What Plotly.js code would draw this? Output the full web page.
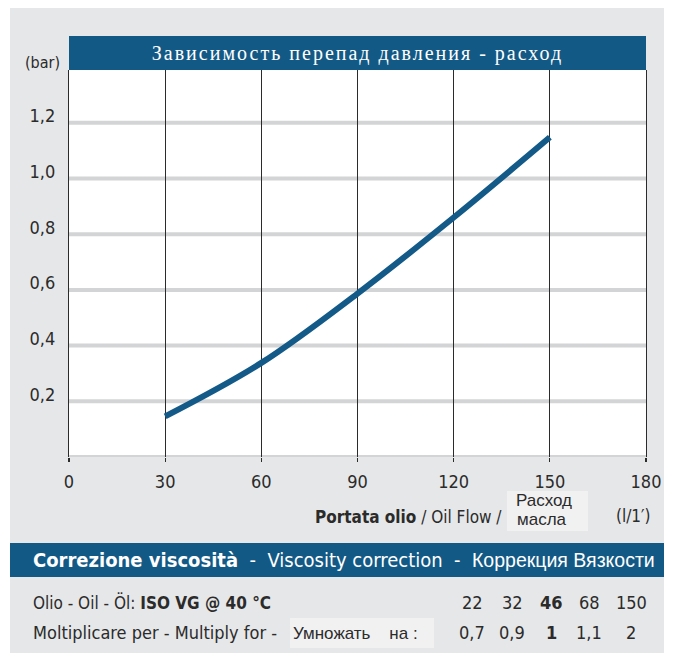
<!DOCTYPE html>
<html>
<head>
<meta charset="utf-8">
<script src="https://cdn.plot.ly/plotly-3.0.1.min.js"></script>
<style>html,body{margin:0;padding:0;background:#fff;}#chart{width:678px;height:655px;}</style>
</head>
<body>
<div id="chart"></div>
<script>
// ---- data ----
const flow = [30, 60, 90, 120, 150];            // l/min
const pressureDrop = [0.146, 0.338, 0.587, 0.86, 1.148]; // bar
const xTicks = [0, 30, 60, 90, 120, 150, 180];
const yTicks = [0.2, 0.4, 0.6, 0.8, 1.0, 1.2];
const yTickText = ['0,2', '0,4', '0,6', '0,8', '1,0', '1,2'];
const viscosityGrades = ['22', '32', '46', '68', '150'];
const correctionFactors = ['0,7', '0,9', '1', '1,1', '2'];
const referenceGrade = '46';

// ---- layout helpers (pixel -> paper) ----
const W = 678, H = 655, L = 69, R = 646, T = 70, B = 457;
const px = p => (p - L) / (R - L);
const py = p => (B - p) / (B - T);

const NARROW = 'Liberation Sans Narrow, DejaVu Sans Condensed, Roboto Condensed, Arial Narrow, Liberation Sans, sans-serif';
const REG = 'Liberation Sans, Arial, sans-serif';
const DARK = '#2b2b2b';
const BLUE = '#135985';

const shapes = [
  // white outer border around the grey panel
  {type:'rect', xref:'paper', yref:'paper', x0:px(0), x1:px(10), y0:py(H), y1:py(0), fillcolor:'#fff', line:{width:0}, layer:'below'},
  {type:'rect', xref:'paper', yref:'paper', x0:px(664), x1:px(W), y0:py(H), y1:py(0), fillcolor:'#fff', line:{width:0}, layer:'below'},
  {type:'rect', xref:'paper', yref:'paper', x0:px(0), x1:px(W), y0:py(8), y1:py(0), fillcolor:'#fff', line:{width:0}, layer:'below'},
  {type:'rect', xref:'paper', yref:'paper', x0:px(0), x1:px(W), y0:py(H), y1:py(653), fillcolor:'#fff', line:{width:0}, layer:'below'},
  // title bar
  {type:'rect', xref:'paper', yref:'paper', x0:0, x1:1, y0:1, y1:py(36), fillcolor:BLUE, line:{width:0}, layer:'below'},
  // viscosity correction bar
  {type:'rect', xref:'paper', yref:'paper', x0:px(10), x1:px(664), y0:py(577), y1:py(543), fillcolor:BLUE, line:{width:0}, layer:'below'},
  // light boxes behind russian labels
  {type:'rect', xref:'paper', yref:'paper', x0:px(507), x1:px(588), y0:py(531), y1:py(491), fillcolor:'#f1f1f2', line:{width:0}, layer:'below'},
  {type:'rect', xref:'paper', yref:'paper', x0:px(290), x1:px(434), y0:py(648), y1:py(618), fillcolor:'#f1f1f2', line:{width:0}, layer:'below'}
];
// horizontal grey grid bands (drawn under the black vertical grid)
[0].concat(yTicks).forEach(v => {
  shapes.push({type:'line', xref:'paper', yref:'y', x0:0, x1:1, y0:v, y1:v, line:{color:'#d3d4d5', width:4}, layer:'below'});
});

const ann = [];
const txt = (text, x, y, opts) => ann.push(Object.assign({
  text, x:px(x), y:py(y), xref:'paper', yref:'paper', showarrow:false,
  xanchor:'left', yanchor:'middle', borderpad:0, font:{family:NARROW, size:17, color:DARK}
}, opts || {}));

txt('(bar)', 42, 62, {xanchor:'center', font:{family:NARROW, size:16, color:DARK}});
// x-axis title pieces
txt('<b>Portata olio</b> / Oil Flow /', 503, 517, {xanchor:'right', font:{family:NARROW, size:17, color:DARK}});
txt('Расход', 544, 500, {xanchor:'center', font:{family:REG, size:17, color:DARK}});
txt('масла', 542, 519, {xanchor:'center', font:{family:REG, size:17, color:DARK}});
txt('(l/1′)', 633, 516, {xanchor:'center', font:{family:NARROW, size:17, color:DARK}});
// correction bar header
txt('<b>Correzione viscosità</b>  -  Viscosity correction  - ', 32, 560, {font:{family:NARROW, size:20, color:'#fff'}});
txt('Коррекция Вязкости', 656, 560, {xanchor:'right', font:{family:REG, size:19.5, color:'#fff'}});
// rows
txt('Olio - Oil - Öl: <b>ISO VG @ 40 °C</b>', 32, 602, {font:{family:NARROW, size:17, color:DARK}});
txt('Moltiplicare per - Multiply for - ', 32, 632, {font:{family:NARROW, size:18, color:DARK}});
txt('Умножать&nbsp;&nbsp;&nbsp;&nbsp;на :', 292, 633, {font:{family:REG, size:17, color:DARK}});
const colX = [472, 512, 551, 589, 631];
viscosityGrades.forEach((g, i) => {
  const bold = g === referenceGrade;
  txt(bold ? '<b>' + g + '</b>' : g, colX[i], 602, {xanchor:'center', font:{family:NARROW, size:18, color:DARK}});
  const f = correctionFactors[i];
  txt(bold ? '<b>' + f + '</b>' : f, colX[i], 632, {xanchor:'center', font:{family:NARROW, size:18, color:DARK}});
});

const data = [{
  type:'scatter', mode:'lines', x:flow, y:pressureDrop,
  line:{color:'#135a88', width:6, shape:'spline', smoothing:1}, hoverinfo:'skip'
}];

const layout = {
  width:W, height:H,
  margin:{l:L, r:W - R, t:T, b:H - B, pad:0},
  paper_bgcolor:'#e6e7e8', plot_bgcolor:'#ffffff',
  showlegend:false,
  title:{text:'Зависимость перепад давления - расход', xref:'paper', x:0.5, xanchor:'center',
         yref:'container', y:1 - 53 / H, yanchor:'middle',
         font:{family:'Liberation Serif, Times New Roman, serif', size:20, color:'#fff'}},
  xaxis:{range:[0, 180], tickvals:xTicks, ticktext:xTicks.map(String),
         showgrid:true, gridcolor:'#2b2b2b', gridwidth:1.2, zeroline:false, showline:false,
         ticks:'outside', ticklen:4, tickcolor:'#2b2b2b', tickwidth:1.2, ticklabelstandoff:4,
         tickfont:{family:NARROW, size:18, color:DARK}, fixedrange:true},
  yaxis:{range:[0, (B - T) / 278.5], tickvals:yTicks, ticktext:yTickText,
         showgrid:false, zeroline:false, showline:true, mirror:true, linecolor:'#2b2b2b', linewidth:1.2,
         ticks:'', ticklabelstandoff:9, ticklabelshift:-7,
         tickfont:{family:NARROW, size:18, color:DARK}, fixedrange:true},
  shapes, annotations:ann
};

Plotly.newPlot('chart', data, layout, {staticPlot:true, displayModeBar:false}).then(gd => {
  const t = gd.querySelector('.gtitle');
  if (t) t.style.letterSpacing = '2px';
});
</script>
</body>
</html>
